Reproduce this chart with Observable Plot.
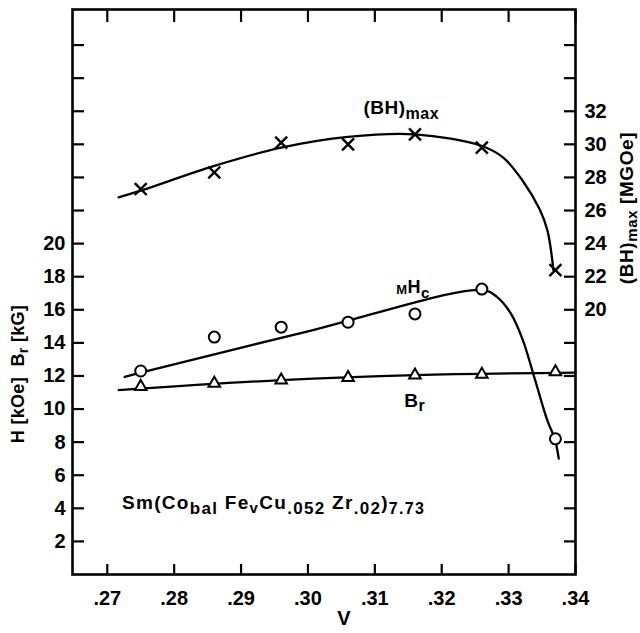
<!DOCTYPE html>
<html><head><meta charset="utf-8">
<script src="https://cdn.jsdelivr.net/npm/d3@7"></script>
<script src="https://cdn.jsdelivr.net/npm/@observablehq/plot@0.6"></script>
<style>html,body{margin:0;padding:0;background:#fff}svg{display:block}</style>
</head><body><div id="chart"></div>
<script>
// ---- measured points ----
const V = [0.275, 0.286, 0.296, 0.306, 0.316, 0.326, 0.337];
const BH_MAX = [27.3, 28.3, 30.1, 30.0, 30.6, 29.8, 22.4];   // MGOe
const M_HC   = [12.3, 14.35, 14.95, 15.25, 15.75, 17.25, 8.2]; // kOe
const B_R    = [11.35, 11.55, 11.75, 11.9, 12.05, 12.1, 12.25]; // kG

// ---- hand-drawn fitted curves ----
const BH_FIT_V = [0.2717, 0.275, 0.286, 0.296, 0.306, 0.316, 0.326, 0.3292, 0.3321, 0.3346, 0.3358, 0.3367];
const BH_FIT   = [26.8, 27.2, 28.7, 29.8, 30.45, 30.6, 29.9, 29.2, 27.8, 26.1, 24.8, 22.4];
const HC_FIT_V = [0.2726, 0.275, 0.300, 0.326, 0.3282, 0.3303, 0.3321, 0.3340, 0.3358, 0.3369, 0.3375];
const HC_FIT   = [11.94, 12.2, 14.7, 17.2, 16.8, 15.8, 14.2, 11.7, 9.3, 8.2, 7.0];
const BR_FIT_V = [0.2717, 0.296, 0.316, 0.340];
const BR_FIT   = [11.15, 11.75, 12.05, 12.2];

// ---- axes ----
const X_TICKS = [0.27, 0.28, 0.29, 0.30, 0.31, 0.32, 0.33, 0.34];
const X_TICK_LABELS = [".27", ".28", ".29", ".30", ".31", ".32", ".33", ".34"];
const H_TICK_LABELS = [2, 4, 6, 8, 10, 12, 14, 16, 18, 20];
const H_TICK_MARKS = [2, 4, 6, 8, 10, 12, 14, 16, 18, 20, 22, 24, 26, 28, 30, 32];
const BH_TICK_LABELS = [20, 22, 24, 26, 28, 30, 32];
const BH_TICK_MARKS = [6, 8, 10, 12, 14, 16, 18, 20, 22, 24, 26, 28, 30, 32, 34, 36];
const BH_OFFSET = 4; // right axis (MGOe) = left axis value + 4

const pts = (xs, ys) => xs.map((x, i) => ({x, y: ys[i]}));
const bhPts = pts(V, BH_MAX).map(d => ({x: d.x, y: d.y - BH_OFFSET}));
const hcPts = pts(V, M_HC);
const brPts = pts(V, B_R);
const bhFit = pts(BH_FIT_V, BH_FIT).map(d => ({x: d.x, y: d.y - BH_OFFSET}));
const hcFit = pts(HC_FIT_V, HC_FIT);
const brFit = pts(BR_FIT_V, BR_FIT);

// ---- annotations ----
const FONT = "'Liberation Sans', Arial, sans-serif";
const annotations = [
  {key: "(BH)max", x: 0.3083, y: 28.2, parts: [{t: "(BH)", s: 19}, {t: "max", s: 16, b: 5}], ls: 0.5},
  {key: "MHc", x: 0.3132, y: 17.4, parts: [{t: "M", s: 13, b: 1}, {t: "H", s: 18}, {t: "c", s: 15, b: 5}], ls: 0.5},
  {key: "Br", x: 0.3144, y: 10.5, parts: [{t: "B", s: 19}, {t: "r", s: 16, b: 4}], ls: 0.5},
  {key: "Sm(Cobal Fev Cu.052 Zr.02)7.73", x: 0.2722, y: 4.3, ls: 1.3, parts: [
    {t: "Sm(Co", s: 19}, {t: "bal", s: 17, b: 5}, {t: " Fe", s: 19}, {t: "v", s: 15, b: 4},
    {t: "Cu", s: 19}, {t: ".052", s: 17, b: 5}, {t: " Zr", s: 19}, {t: ".02", s: 17, b: 5},
    {t: ")", s: 19}, {t: "7.73", s: 16, b: 5}]}
];
const titles = {
  left: {key: "H [kOe]  Br [kG]", ls: 0.3, parts: [{t: "H [kOe]  B", s: 18}, {t: "r", s: 14, b: 4}, {t: " [kG]", s: 18}]},
  right: {key: "(BH)max [MGOe]", ls: 0.6, parts: [{t: "(BH)", s: 19}, {t: "max", s: 15, b: 4}, {t: " [MGOe]", s: 19}]}
};

const plot = Plot.plot({
  width: 640, height: 633,
  marginLeft: 72, marginRight: 65, marginTop: 9, marginBottom: 59,
  x: {domain: [0.2648, 0.34]},
  y: {domain: [0, 34.15]},
  style: {fontFamily: FONT, fontWeight: "bold", fontSize: "20px", color: "#000", background: "#fff"},
  marks: [
    Plot.frame({strokeWidth: 2.6}),
    Plot.axisX(X_TICKS, {anchor: "bottom", tickSize: -10, strokeWidth: 2.2, tickFormat: () => "", label: null}),
    Plot.axisX(X_TICKS, {anchor: "top", tickSize: -12, strokeWidth: 2.2, tickFormat: () => "", label: null}),
    Plot.axisX(X_TICKS, {anchor: "bottom", tickSize: 0, tickPadding: 16, fontSize: 20,
      tickFormat: d => X_TICK_LABELS[X_TICKS.indexOf(d)], label: null}),
    Plot.axisY(H_TICK_MARKS, {anchor: "left", tickSize: -12, strokeWidth: 2.2, tickFormat: () => "", label: null}),
    Plot.axisY(H_TICK_LABELS, {anchor: "left", tickSize: 0, tickPadding: 7, fontSize: 20, tickFormat: d => String(d), label: null}),
    Plot.axisY(BH_TICK_MARKS.map(v => v - BH_OFFSET), {anchor: "right", tickSize: -12, strokeWidth: 2.2, tickFormat: () => "", label: null}),
    Plot.axisY(BH_TICK_LABELS.map(v => v - BH_OFFSET), {anchor: "right", tickSize: 0, tickPadding: 9, fontSize: 20,
      tickFormat: d => String(d + BH_OFFSET), label: null}),
    Plot.line(bhFit, {x: "x", y: "y", curve: "catmull-rom", stroke: "#000", strokeWidth: 2.3}),
    Plot.line(hcFit, {x: "x", y: "y", curve: "catmull-rom", stroke: "#000", strokeWidth: 2.3}),
    Plot.line(brFit, {x: "x", y: "y", curve: "catmull-rom", stroke: "#000", strokeWidth: 2.3}),
    Plot.dot(bhPts, {x: "x", y: "y", symbol: "times", r: 5.5, stroke: "#000", strokeWidth: 2.4}),
    Plot.dot(hcPts, {x: "x", y: "y", symbol: "circle", r: 5.5, fill: "#fff", stroke: "#000", strokeWidth: 2}),
    Plot.dot(brPts, {x: "x", y: "y", symbol: "triangle2", r: 5.5, fill: "#fff", stroke: "#000", strokeWidth: 2}),
    Plot.text(annotations, {x: "x", y: "y", text: "key", textAnchor: "start", fontSize: 19}),
    Plot.text(["V"], {frameAnchor: "bottom", dx: 20, dy: 50, text: d => d, fontSize: 20}),
    Plot.text([titles.left], {frameAnchor: "left", textAnchor: "middle", dx: -54, dy: 82, rotate: -90, text: "key", fontSize: 18}),
    Plot.text([titles.right], {frameAnchor: "right", textAnchor: "middle", dx: 51, dy: -84, rotate: -90, text: "key", fontSize: 19})
  ]
});

function richText(svg, key, parts, ls) {
  d3.select(svg).selectAll("text").filter(function () { return this.textContent === key; }).each(function () {
    const el = d3.select(this);
    el.text(null);
    if (ls) el.attr("letter-spacing", ls);
    let prev = 0;
    for (const p of parts) {
      const b = p.b || 0;
      el.append("tspan").attr("dy", b - prev).attr("font-size", p.s).text(p.t);
      prev = b;
    }
  });
}
for (const a of annotations) richText(plot, a.key, a.parts, a.ls);
richText(plot, titles.left.key, titles.left.parts, titles.left.ls);
richText(plot, titles.right.key, titles.right.parts, titles.right.ls);

document.getElementById("chart").append(plot);
</script>
</body></html>
